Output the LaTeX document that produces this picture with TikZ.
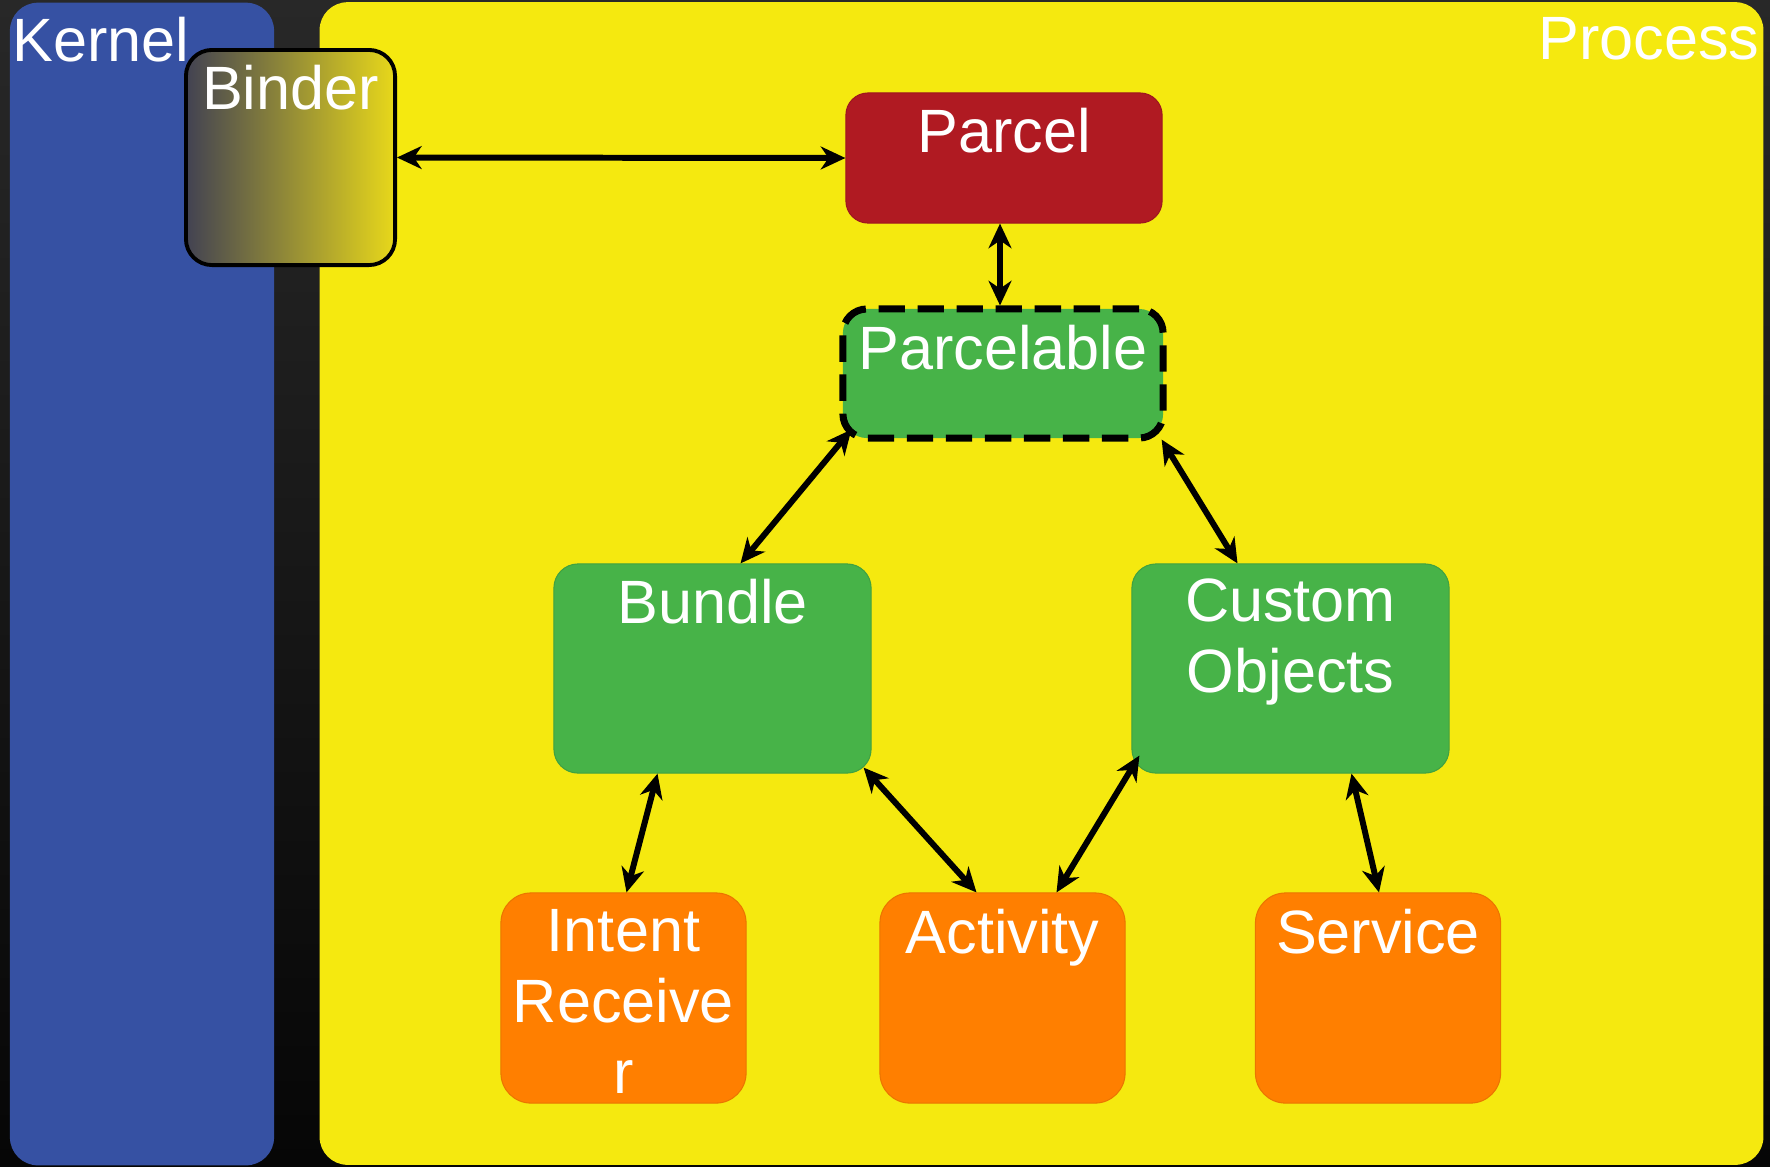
\documentclass[tikz,border=0pt]{standalone}
\usepackage{fontspec}
\setmainfont{Liberation Sans}
\usetikzlibrary{arrows.meta,calc}
\definecolor{bgtop}{RGB}{40,40,40}
\definecolor{bgbot}{RGB}{6,6,6}
\definecolor{kernelblue}{RGB}{54,81,163}
\definecolor{procyellow}{RGB}{245,233,15}
\definecolor{parcelred}{RGB}{176,26,34}
\definecolor{boxgreen}{RGB}{71,179,72}
\definecolor{boxorange}{RGB}{255,127,0}
\definecolor{bindl}{RGB}{66,66,82}
\definecolor{bindr}{RGB}{232,216,26}
\begin{document}
\begin{tikzpicture}[x=0.01cm,y=-0.01cm,
  lbl/.style={text=white,font=\fontsize{17.4pt}{20.2pt}\selectfont,inner sep=0pt,align=center},
  box/.style={rectangle,inner sep=0pt,rounded corners=0.24cm},
  greenbox/.style={box,fill=boxgreen,draw=boxgreen!90!black,line width=0.3pt,minimum width=3.17cm,minimum height=2.09cm},
  orangebox/.style={box,rounded corners=0.3cm,fill=boxorange,draw=boxorange!92!black,line width=0.3pt,minimum width=2.45cm,minimum height=2.10cm},
  tip/.tip={Stealth[length=7pt,width=6.5pt,inset=2.2pt]},
  conn/.style={line width=1.7pt,tip-tip},
]
\useasboundingbox (0,0) rectangle (1770,1166);
% dark backdrop
\shade[top color=bgtop,bottom color=bgbot] (0,0) rectangle (1770,1166);

% kernel and process areas
\node[box,rounded corners=0.28cm,fill=kernelblue,minimum width=2.64cm,minimum height=11.62cm] (kernel) at (142,584) {};
\node[box,rounded corners=0.28cm,fill=procyellow,minimum width=14.43cm,minimum height=11.62cm] (process) at (1041.5,583.5) {};
\node[lbl,anchor=north west] (kernelT) at (12,16) {Kernel};
\node[lbl,anchor=north east] (processT) at (1760,17) {Process};

% binder straddles both areas
\node[box,rounded corners=0.26cm,left color=bindl,right color=bindr,draw=black,line width=1.1pt,minimum width=2.09cm,minimum height=2.15cm] (binder) at (290.5,157.5) {};
\node[lbl,anchor=north] (binderT) at ($(binder.north)+(0,16)$) {Binder};

% parcel and parcelable
\node[box,rounded corners=0.22cm,fill=parcelred,draw=parcelred!90!black,line width=0.3pt,minimum width=3.16cm,minimum height=1.30cm] (parcel) at (1004,158) {};
\node[lbl,anchor=north] (parcelT) at ($(parcel.north)+(0,15)$) {Parcel};

\node[box,rounded corners=0.24cm,fill=boxgreen,draw=black,line width=2pt,dash pattern=on 7.5pt off 3.6pt,minimum width=3.20cm,minimum height=1.29cm] (parcelable) at (1003,373.5) {};
\node[lbl,anchor=north] (parcelableT) at ($(parcelable.north)+(0,19)$) {Parcelable};

% green data holders
\node[greenbox] (bundle) at (712.5,668.5) {};
\node[lbl,anchor=north] (bundleT) at ($(bundle.north)+(0,15)$) {Bundle};
\node[greenbox] (custom) at (1290.5,668.5) {};
\node[lbl,anchor=north] (customT) at ($(custom.north)+(0,15)$) {Custom\\Objects};

% components
\node[orangebox] (intent) at (623.5,998) {};
\node[lbl,anchor=north] (intentT) at ($(intent.north)+(0,16)$) {Intent\\Receive\\r};
\node[orangebox] (activity) at (1002.5,998) {};
\node[lbl,anchor=north] (activityT) at ($(activity.north)+(0,16)$) {Activity};
\node[orangebox] (service) at (1378,998) {};
\node[lbl,anchor=north] (serviceT) at ($(service.north)+(0,16)$) {Service};

% connectors
\draw[conn] (binder.east) -- (parcel.west);
\draw[conn] ($(parcel.south)+(-4,0)$) -- ($(parcelable.north)+(-3,0)$);
\draw[conn] ($(parcelable.south west)+(12,-12)$) -- ($(bundle.north)+(28,0)$);
\draw[conn] ($(parcelable.south east)+(-5,-2)$) -- ($(custom.north)+(-53,0)$);
\draw[conn] ($(bundle.south)+(-55,0)$) -- ($(intent.north)+(3,0)$);
\draw[conn] ($(bundle.south east)+(-8,-6)$) -- ($(activity.north)+(-26,0)$);
\draw[conn] ($(custom.south west)+(8,-18)$) -- ($(activity.north)+(54,0)$);
\draw[conn] ($(custom.south)+(61,0)$) -- ($(service.north)+(1,0)$);
\end{tikzpicture}
\end{document}
